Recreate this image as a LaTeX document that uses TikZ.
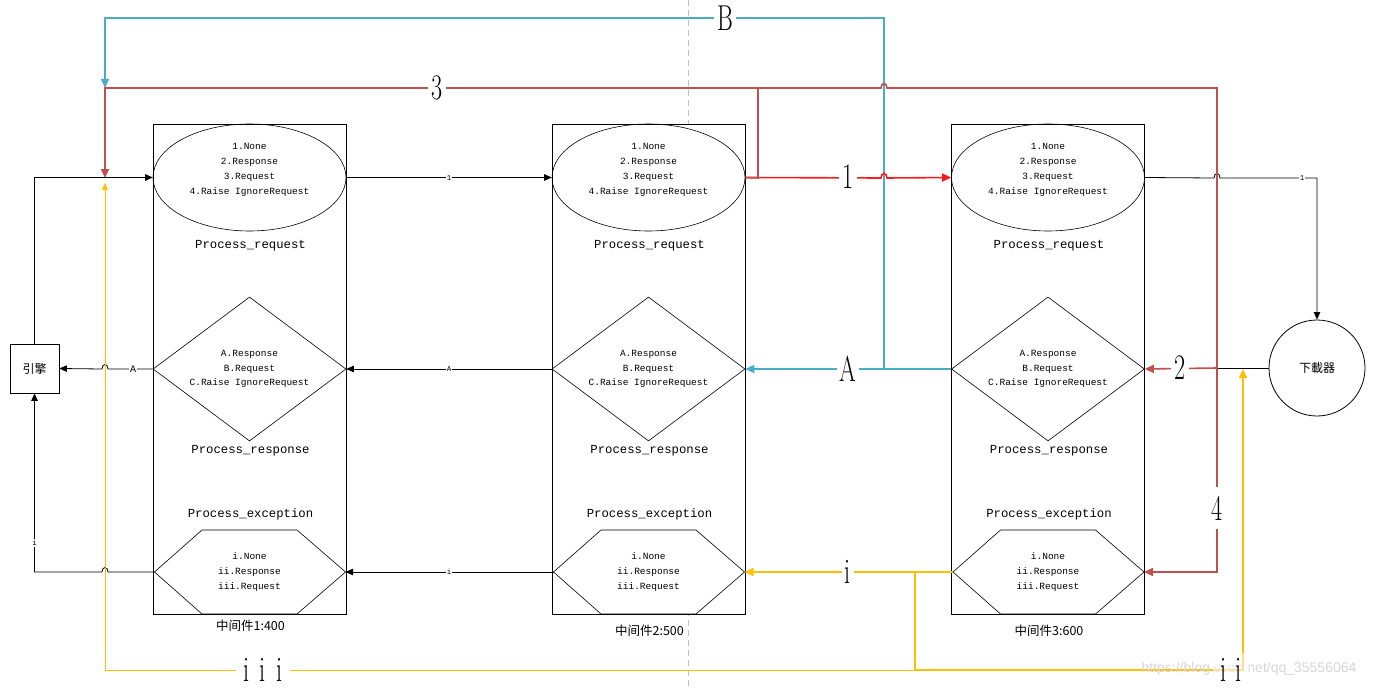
\documentclass[tikz,border=0pt]{standalone}
\usepackage{fontspec}
\usepackage{graphicx}
\setmonofont{Liberation Mono}
\newfontfamily\cjk{Noto Sans CJK SC}
\newfontfamily\wmfont{Liberation Sans}
\usetikzlibrary{shapes.geometric,arrows.meta,calc}
\definecolor{cred}{HTML}{C0504D}
\definecolor{bred}{HTML}{FF1A1A}
\definecolor{cblue}{HTML}{4BACC6}
\definecolor{cyel}{HTML}{FFC000}
\definecolor{cgray}{HTML}{BFBFBF}
\newcommand\biglbl[1]{\scalebox{0.67}[1]{\fontsize{36}{36}\selectfont #1}}
\begin{document}
\begin{tikzpicture}[x=1pt,y=-1pt,
  midbox/.style={draw, fill=white, minimum width=193pt, minimum height=490pt, inner sep=0pt, line width=0.8pt},
  ell/.style={ellipse, draw, minimum width=193pt, minimum height=107pt, inner sep=0pt, line width=0.6pt},
  dia/.style={diamond, draw, minimum width=193pt, minimum height=144pt, inner sep=0pt, line width=0.6pt},
  smalltxt/.style={font=\ttfamily\fontsize{9.5}{14.8}\selectfont, align=center, inner sep=0pt},
  titletxt/.style={font=\ttfamily\fontsize{12.3}{14}\selectfont, inner sep=0pt},
  cntxt/.style={font=\cjk\fontsize{12.5}{14}\selectfont, inner sep=0pt},
  tinylbl/.style={fill=white, inner sep=0.8pt, font=\ttfamily\fontsize{7.5}{7.5}\selectfont},
  biglab/.style={fill=white, inner xsep=3pt, inner ysep=5pt, font=\fontsize{36}{36}\selectfont},
  blk/.style={line width=0.8pt, -{Triangle[length=7.5pt,width=6.5pt]}},
  blkline/.style={line width=0.8pt},
  redarr/.style={draw=cred, line width=1.6pt, -{Triangle[length=9pt,width=8pt]}},
  redline/.style={draw=cred, line width=1.6pt},
  bredarr/.style={draw=bred, line width=1.6pt, -{Triangle[length=9pt,width=8pt]}},
  bluearr/.style={draw=cblue, line width=1.6pt, -{Triangle[length=9pt,width=8pt]}},
  blueline/.style={draw=cblue, line width=1.6pt},
  yelarr/.style={draw=cyel, line width=1.6pt, -{Triangle[length=9pt,width=8pt]}},
  yelline/.style={draw=cyel, line width=1.6pt},
  thinyel/.style={draw=cyel, line width=0.75pt, -{Triangle[length=7pt,width=6pt]}},
  hexa/.style={draw, line width=0.6pt}
]
\useasboundingbox (0,0) rectangle (1373,690);
\fill[white] (0,0) rectangle (1373,690);

% dashed divider
\draw[cgray, line width=0.8pt, dash pattern=on 6pt off 4pt] (688,0) -- (688,690);

% middleware boxes
\foreach \i/\cx/\lab/\ly in {1/249.5/1:400/626,2/648.5/2:500/631,3/1048/3:600/631}{
  \node[midbox] (m\i) at (\cx,369) {};
  \node[ell] (e\i) at (\cx,177.5) {};
  \node[smalltxt] (et\i) at (\cx,170) {1.None\\2.Response\\3.Request\\4.Raise IgnoreRequest};
  \node[titletxt] (pr\i) at (\cx+1,246) {Process\_request};
  \node[dia] (d\i) at (\cx,369) {};
  \node[smalltxt] (dt\i) at (\cx,369) {A.Response\\B.Request\\C.Raise IgnoreRequest};
  \node[titletxt] (ps\i) at (\cx+1,451) {Process\_response};
  \node[titletxt] (px\i) at (\cx+1,514) {Process\_exception};
  \coordinate (hw\i) at (\cx-95,572);
  \coordinate (he\i) at (\cx+96,572);
  \draw[hexa] (hw\i) -- (\cx-47.5,530) -- (\cx+47.5,530) -- (he\i) -- (\cx+47.5,614) -- (\cx-47.5,614) -- cycle;
  \node[smalltxt] (ht\i) at (\cx,572) {i.None\\ii.Response\\iii.Request};
  \node[cntxt] (ml\i) at (\cx+1,\ly) {中间件\lab};
}

% engine and downloader
\node[draw, line width=0.8pt, minimum width=49pt, minimum height=49pt, inner sep=0pt, font=\cjk\fontsize{12}{12}\selectfont] (eng) at (34.5,368.5) {引擎};
\node[circle, draw, line width=0.8pt, minimum size=96pt, inner sep=0pt, font=\cjk\fontsize{12}{12}\selectfont] (dl) at (1317,368) {下載器};

% free-end coordinates
\coordinate (redin) at (105,178);
\coordinate (bluein) at (105,88);
\coordinate (yelin) at (105,183);
\coordinate (yelup) at (1243,369);
\coordinate (rj) at (758,178);
\coordinate (rt) at (758,88);
\coordinate (bj) at (884,369);
\coordinate (yj) at (915,572);
\coordinate (yb) at (915,670);
\coordinate (rv) at (1217,368);

% ---------- black connectors ----------
\draw[blk] (eng.north) |- (e1.west);
\draw[blk] (e1.east) -- (e2.west);
\node[tinylbl] (l1a) at (449,178) {1};
\draw[blk] (e3.east) -- (1214,178) .. controls (1214,172) and (1220,172) .. (1220,178) -- (1317,178) -- (dl.north);
\node[tinylbl] (l1b) at (1302,178) {1};
\draw[blkline] (dl.west) -- (rv);
\draw[blk] (d2.west) -- (d1.east);
\node[tinylbl] (lAa) at (449,369) {A};
\draw[blk] (d1.west) -- (108,369) .. controls (108,363) and (102,363) .. (102,369) -- (eng.east);
\node[tinylbl, font=\ttfamily\fontsize{10}{10}\selectfont] (lAb) at (133,369) {A};
\draw[blk] (hw2) -- (he1);
\node[tinylbl] (lia) at (449,572) {i};
\draw[blk] (hw1) -- (108,572) .. controls (108,566) and (102,566) .. (102,572) -- (34.5,572) -- (eng.south);
\node[tinylbl] (lib) at (34.5,543) {i};

% ---------- blue connectors ----------
\draw[blueline] (d3.west) -- (bj);
\draw[bluearr] (bj) -- (d2.east);
\draw[bluearr] (bj) -- (884,18) -- (105,18) -- (bluein);
\node[biglab] (lA) at (848,369) {\biglbl{A}};
\node[biglab] (lB) at (725,18) {\biglbl{B}};

% ---------- red connectors ----------
\draw[bredarr] (e2.east) -- (881,178) .. controls (881,172) and (887,172) .. (887,178) -- (e3.west);
\node[biglab] (l1) at (848,177) {\biglbl{1}};
\draw[redarr] (e2.east) -- (rj) -- (rt) -- (105,88) -- (redin);
\draw[redarr] (rt) -- (881,88) .. controls (881,82) and (887,82) .. (887,88) -- (1217,88) -- (1217,572) -- (he3);
\draw[redarr] (rv) -- (d3.east);
\node[biglab] (l3) at (437,88) {\biglbl{3}};
\node[biglab] (l2) at (1180,368) {\biglbl{2}};
\node[biglab, inner ysep=9pt] (l4) at (1217,508) {\biglbl{4}};

% ---------- yellow connectors ----------
\draw[yelline] (hw3) -- (yj);
\draw[yelarr] (yj) -- (he2);
\draw[yelarr] (yj) -- (yb) -- (1243,670) -- (yelup);
\draw[thinyel] (yb) -- (105,670) -- (yelin);
\node[biglab] (li) at (848,572) {\biglbl{i}};
\node[biglab] (liii) at (263,670) {\biglbl{\makebox[24pt]{i}\makebox[24pt]{i}\makebox[24pt]{i}}};

% watermark (faint, under the label ii as far as possible)
\node[text=black!16, font=\wmfont\fontsize{14}{14}\selectfont, inner sep=0pt] (wm) at (1249,669) {https://blog.csdn.net/qq\_35556064};
\node[fill=white, fill opacity=0.5, text opacity=1, inner xsep=3pt, inner ysep=5pt, font=\fontsize{36}{36}\selectfont] (lii) at (1231,670) {\biglbl{\makebox[23pt]{i}\makebox[23pt]{i}}};
\end{tikzpicture}
\end{document}
